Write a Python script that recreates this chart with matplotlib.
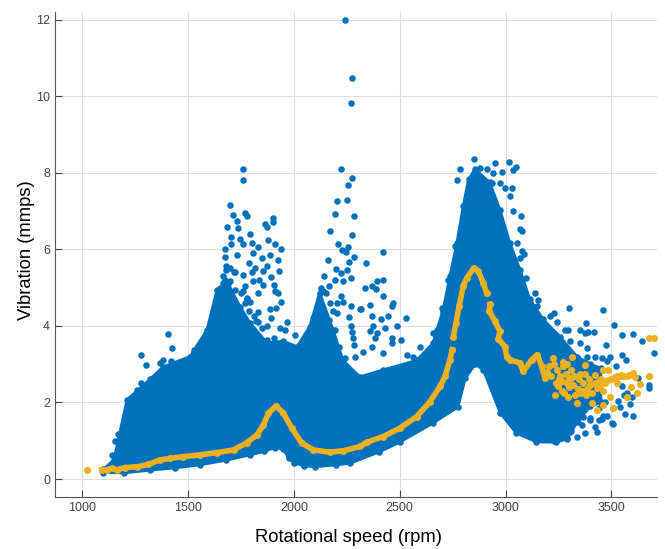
import matplotlib
matplotlib.use('Agg')
import matplotlib.pyplot as plt

plt.rcParams['font.family'] = ['Liberation Sans', 'DejaVu Sans']

nan = float('nan')

# dense part of the cloud, outline
low_rpm = [1100,1200,1320,1440,1557,1680,1793,1860,1910,1950,1975,2000,2050,2100,2200,2265,2400,2500,2657,2775,2810,2857,2895,2975,3050,3145,3240,3290,3340,3400,3450]
low_v = [.17,.16,.23,.29,.37,.49,.63,.72,.82,.78,.55,.42,.34,.32,.37,.41,.70,.96,1.46,1.88,2.64,3.0,2.85,1.72,1.2,.97,.96,1.05,1.5,1.9,2.0]
up_rpm = [1100,1150,1212,1320,1382,1510,1590,1637,1690,1746,1793,1873,1950,2015,2075,2122,2185,2232,2312,2421,2580,2657,2705,2737,2770,2800,2825,2855,2925,2973,3020,3068,3115,3177,3257,3337,3400,3450]
up_v = [.25,.5,2.07,2.6,2.93,3.2,3.9,4.95,5.1,4.5,4.08,3.56,3.6,3.46,3.98,4.87,3.9,3.1,2.67,2.85,3.1,3.55,4.42,5.3,6.17,7.13,7.83,8.09,7.75,7.04,6.17,5.47,4.69,4.17,3.72,3.2,3.0,2.9]

# single blue points outside the dense part
blue_rpm = [2240,2273,2268,
    1759,1759,1700,1713,1730,1770,1778,1683,1738,1792,1704,1745,1762,1800,1833,1704,1675,1864,1875,1900,1902,1880,1913,1940,1730,1675,1809,1849,1888,1927,1679,1786,1817,1872,1856,1932,1715,1759,1801,1891,1837,1809,1904,1767,1856,1675,1699,1667,1723,1833,1927,1911,1778,1793,1941,1888,1915,1833,1891,1822,1970,1872,1935,1959,1848,1872,1904,2006,
    1406,1425,1279,1304,1368,1384,1420,1527,1502,1549,1279,1261,1227,1214,1211,1168,1156,1142,1192,
    2225,2275,2258,2204,2250,2195,2286,2171,2275,2207,2258,2226,2247,2283,2163,2261,2200,2250,2222,2143,2195,2234,2270,2168,2140,2222,2234,2270,2184,2206,2261,2313,2195,2270,2273,2281,2284,2215,2242,2211,2289,
    2422,2341,2422,2391,2367,2336,2388,2422,2470,2462,2359,2315,2446,2367,2411,2529,2488,2430,2375,2359,2462,2504,2462,2391,2383,2367,2328,2422,2596,2533,2564,2674,2658,2698,2706,2729,2762,2770,2783,
    2849,2879,2910,2951,3017,3049,3033,2981,2942,2934,2973,2997,3028,3020,3036,3072,3068,3076,3052,3076,3088,3068,3096,3139,3091,3151,3115,3146,3131,3298,3460,3228,3209,3241,3378,3513,3280,3296,3351,3375,3419,3390,3551,3604,3642,3472,3304,3351,3383,3551,3568,3700,3422,3453,3493,3477,3521,3383,3678,3678,3627,3564,3604,3587,3501,3508,3453,3461,3422,3430,3373,3335,3288,3304,3228,3143,3508,3540,3571,3548,3595,3398,3367,3414,
    1650,1665,1680,1700,1720,1750,1770,1790,1810,1830,1850,1760,1780,2110,2130,2150,2170,2100,2090,2205,2165,3270,3320,3360,3400,3440,3480,3250,3310,3350,3440,3470,3530,3560]
blue_v = [12.0,10.48,9.82,
    8.10,7.82,7.16,6.90,6.74,6.95,6.88,6.59,6.56,6.40,6.33,6.26,6.13,6.17,6.06,6.13,6.00,6.65,6.59,6.82,6.71,6.24,6.15,6.01,5.84,5.80,5.91,5.78,5.84,5.71,5.56,5.64,5.51,5.56,5.43,5.43,5.40,5.32,5.40,5.28,5.19,5.16,5.08,5.05,5.08,5.19,5.16,5.12,4.95,4.86,4.86,4.90,4.73,4.62,4.63,4.44,4.47,4.37,4.2,4.12,4.10,3.99,3.94,3.9,3.5,3.62,3.68,3.75,
    3.78,3.41,3.25,2.97,3.03,3.10,3.07,3.37,3.12,3.46,2.52,2.33,2.02,1.59,1.28,1.18,.98,.64,.74,
    8.10,7.87,7.68,7.27,7.30,6.92,6.88,6.49,6.37,6.14,6.07,5.99,5.92,5.81,5.71,5.66,5.49,5.47,5.37,5.30,5.21,5.18,5.24,5.03,4.92,4.77,4.62,4.51,4.38,4.33,4.24,4.44,3.88,3.99,3.83,3.68,3.5,3.44,3.16,3.11,3.2,
    5.92,5.64,5.21,5.17,5.03,4.98,4.97,4.77,4.60,4.51,4.55,4.45,4.25,4.27,4.17,4.20,3.99,3.94,3.99,3.86,3.68,3.64,3.55,3.81,3.68,3.46,3.33,3.29,3.44,3.25,3.2,3.9,3.81,4.47,4.36,5.21,6.08,7.82,8.10,
    8.35,8.13,8.10,8.26,8.29,8.15,8.07,8.03,8.0,7.74,7.74,7.61,7.59,7.39,7.0,6.88,6.52,6.47,6.17,5.95,5.89,5.78,5.25,4.86,4.86,4.68,4.6,4.51,4.38,4.47,4.42,4.34,4.27,4.09,4.08,4.03,3.88,3.88,3.9,3.81,3.84,3.83,3.75,3.8,3.6,3.51,3.6,3.55,3.42,3.23,3.1,3.3,3.2,3.16,3.2,3.07,2.96,3.2,2.46,2.37,2.63,1.69,1.65,1.95,1.47,1.44,1.56,1.65,1.37,1.24,1.2,1.09,1.06,1.24,.98,1.04,1.85,1.89,2.24,2.42,2.15,1.54,1.63,1.98,
    5.0,5.3,5.45,5.5,5.4,4.85,4.6,4.4,4.25,4.1,3.95,4.9,4.7,4.4,5.0,4.85,4.6,4.15,4.2,4.6,4.15,1.4,1.55,1.4,1.6,1.55,1.65,1.25,1.25,1.8,1.85,2.0,2.05,2.2]

# yellow mean curve, nan marks the gap after the peak
mean_rpm = [1093,1117,1140,1164,1203,1258,1313,1368,1416,1478,1557,1636,1715,1778,1825,1856,1880,1916,1951,1990,2037,2092,2171,2234,2313,2344,2422,2501,2580,2643,2690,2714,2737,2748,nan,2753,2766,2780,2800,2816,2850,2871,2895,2910,nan,2926,2923,2950,2973,2965,2997,3005,3020,3068,3083,3123,3150,3170,3186]
mean_v = [.24,.24,.28,.24,.3,.32,.38,.5,.54,.585,.63,.69,.76,.95,1.15,1.41,1.72,1.91,1.72,1.33,.94,.76,.70,.74,.85,.96,1.11,1.33,1.63,2.02,2.42,2.68,3.11,3.38,nan,3.71,4.08,4.51,5.04,5.25,5.51,5.43,5.12,4.86,nan,4.56,4.38,4.12,3.86,3.66,3.46,3.2,3.12,3.03,2.81,3.11,3.25,2.94,2.63]

# yellow single points on the right
mean_pts_rpm = [1022,3225,3241,3272,3312,3249,3233,3288,3296,3335,3375,3367,3422,3430,3406,3430,3461,3508,3493,3461,3485,3485,3524,3571,3604,3611,3634,3619,3571,3524,3678,3678,3700,
    3205,3215,3255,3265,3285,3300,3320,3340,3350,3395,3410,3445,3460,3450,3380,3310,3265,3240,3545,3590,3500,
    3195,3230,3250,3270,3290,3310,3325,3345,3360,3385,3400,3420,3440,3275,3300,3330,3355,3375,
    3500,3515,3540,3555,3585,3470]
mean_pts_v = [.24,3.16,2.85,2.94,3.2,2.42,2.2,2.5,2.15,1.98,2.98,2.5,2.72,2.37,1.98,1.8,1.94,1.85,2.15,2.85,2.85,2.59,2.68,2.7,2.78,2.66,2.48,2.24,2.15,2.5,2.7,3.69,3.69,
    2.95,2.7,2.7,2.55,2.75,2.4,2.45,2.35,2.75,2.6,2.25,2.45,2.3,2.6,2.2,2.65,2.3,2.5,2.72,2.4,2.6,
    2.8,3.0,2.6,3.05,3.0,2.85,2.7,2.6,2.3,2.35,2.45,2.5,2.55,2.25,2.6,2.2,2.25,2.75,
    2.62,2.66,2.7,2.7,2.72,2.5]

x_ticks = [1000,1500,2000,2500,3000,3500]
y_ticks = [0,2,4,6,8,10,12]

blue = '#0072bd'
yellow = '#edb120'

fig = plt.figure(figsize=(6.65,5.49),dpi=100)
ax = fig.add_axes([55/665,52/549,602/665,485/549])

# outline of the dense part, lower edge then upper edge backwards
ax.fill(low_rpm+up_rpm[::-1],low_v+up_v[::-1],color=blue,lw=2,zorder=2)
ax.scatter(low_rpm+up_rpm,low_v+up_v,s=22,color=blue,lw=0,zorder=3)
ax.scatter(blue_rpm,blue_v,s=22,color=blue,lw=0,zorder=3)
ax.plot(mean_rpm,mean_v,'-o',color=yellow,lw=4,ms=5,mew=0,zorder=4)
ax.scatter(mean_pts_rpm,mean_pts_v,s=26,color=yellow,lw=0,zorder=5)

ax.set_xlim(872,3715)
ax.set_ylim(-0.47,12.2)
ax.set_xticks(x_ticks)
ax.set_yticks(y_ticks)
ax.grid(True,color='#dfdfdf',lw=0.8)
ax.set_axisbelow(True)
for s in ['top','right']:
    ax.spines[s].set_visible(False)
for s in ['left','bottom']:
    ax.spines[s].set_color('#555555')
ax.tick_params(direction='in',length=5,width=0.8,color='#444444',labelcolor='#444444',labelsize=9)
ax.set_xlabel('Rotational speed (rpm)',fontsize=13.2,labelpad=11,x=0.487)
ax.set_ylabel('Vibration (mmps)',fontsize=13.2,labelpad=1,y=0.51)

fig.savefig('out.png',dpi=100)
